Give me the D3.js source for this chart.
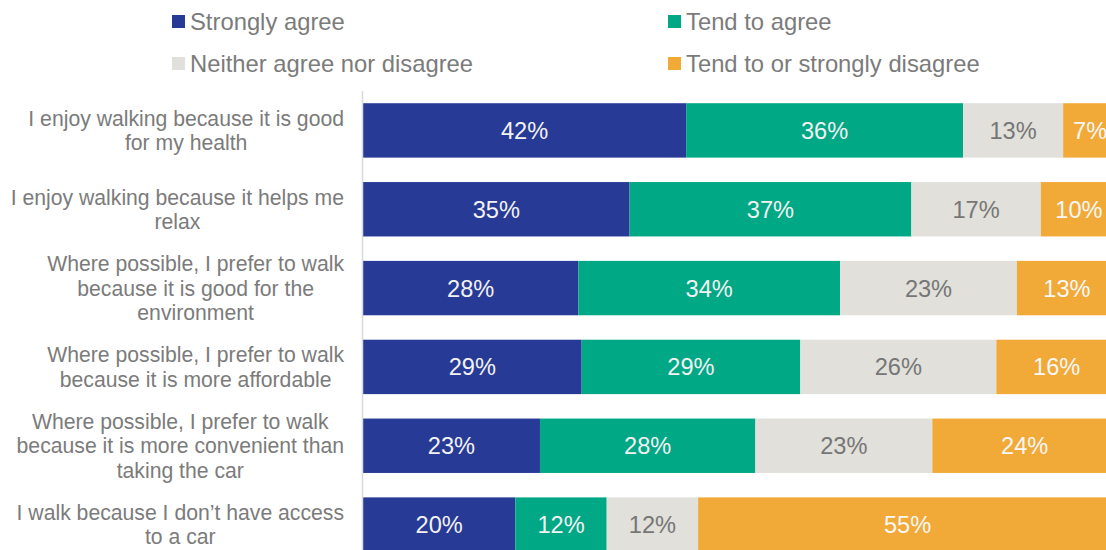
<!DOCTYPE html>
<html>
<head>
<meta charset="utf-8">
<script src="https://cdn.jsdelivr.net/npm/d3@7"></script>
<style>
  html, body { margin: 0; padding: 0; background: #ffffff; overflow: hidden; }
  svg { display: block; font-family: "Liberation Sans", Arial, Helvetica, sans-serif; }
</style>
</head>
<body>
<svg id="chart" width="1106" height="550"></svg>
<script>
// Survey statements (line breaks as shown in the axis labels)
const categories = [
  "I enjoy walking because it is good\nfor my health",
  "I enjoy walking because it helps me\nrelax",
  "Where possible, I prefer to walk\nbecause it is good for the\nenvironment",
  "Where possible, I prefer to walk\nbecause it is more affordable",
  "Where possible, I prefer to walk\nbecause it is more convenient than\ntaking the car",
  "I walk because I don\u2019t have access\nto a car"
];

const seriesNames = [
  "Strongly agree",
  "Tend to agree",
  "Neither agree nor disagree",
  "Tend to or strongly disagree"
];

// Percentages per statement
const stronglyAgree = [42, 35, 28, 29, 23, 20];
const tendToAgree   = [36, 37, 34, 29, 28, 12];
const neither       = [13, 17, 23, 26, 23, 12];
const disagree      = [7, 10, 13, 16, 24, 55];

const seriesColors = ["#273a96", "#00a886", "#e1e0da", "#f1aa37"];
const labelColors  = ["#f2f2f2", "#f2f2f2", "#767676", "#f7f7f7"];

const rows = categories.map((c, i) => ({
  category: c,
  [seriesNames[0]]: stronglyAgree[i],
  [seriesNames[1]]: tendToAgree[i],
  [seriesNames[2]]: neither[i],
  [seriesNames[3]]: disagree[i]
}));

const svg = d3.select("#chart");

// 100% stacked bars: each row normalised to its own total
const stack = d3.stack().keys(seriesNames).offset(d3.stackOffsetExpand);
const stacked = stack(rows);

const x = d3.scaleLinear().domain([0, 1]).range([363, 1117]);
const y = d3.scaleBand()
  .domain(categories)
  .range([91, 564])
  .paddingInner(0.31)
  .paddingOuter(0.155);

// Bars
const layers = svg.append("g")
  .selectAll("g")
  .data(stacked)
  .join("g")
  .attr("fill", (d, i) => seriesColors[i]);

layers.selectAll("rect")
  .data(d => d.map(p => ({ p, key: d.key })))
  .join("rect")
  .attr("x", d => x(d.p[0]))
  .attr("y", d => y(d.p.data.category))
  .attr("width", d => x(d.p[1]) - x(d.p[0]))
  .attr("height", y.bandwidth());

// Value labels in the middle of each segment
layers.each(function (layer, si) {
  d3.select(this).selectAll("text")
    .data(layer)
    .join("text")
    .attr("x", p => (x(p[0]) + x(p[1])) / 2)
    .attr("y", p => y(p.data.category) + y.bandwidth() / 2)
    .attr("dy", "0.36em")
    .attr("text-anchor", "middle")
    .attr("font-size", 23.6)
    .attr("fill", labelColors[si])
    .text(p => p.data[layer.key] + "%");
});

// Vertical category axis line
svg.append("line")
  .attr("x1", 362.5).attr("x2", 362.5)
  .attr("y1", 91).attr("y2", 550)
  .attr("stroke", "#d9d9d9")
  .attr("stroke-width", 1.5);

// Category labels: each block right-aligned, its lines centred on each other
const labelRight = 344;
const lineGap = 24.5;
const catFont = 21.2;
const catGroup = svg.append("g")
  .attr("font-size", catFont)
  .attr("fill", "#7b7b7b");

categories.forEach(c => {
  const lines = c.split("\n");
  const t = catGroup.append("text").attr("text-anchor", "middle");
  const cy = y(c) + y.bandwidth() / 2;
  const firstBase = cy - (lines.length - 1) * lineGap / 2 + catFont * 0.36;
  lines.forEach((ln, k) => {
    t.append("tspan").attr("y", firstBase + k * lineGap).text(ln);
  });
  let maxW = 0;
  t.selectAll("tspan").each(function () {
    maxW = Math.max(maxW, this.getComputedTextLength());
  });
  t.selectAll("tspan").attr("x", labelRight - maxW / 2);
});

// Legend (two columns, two rows)
const legendPos = [
  { x: 172, y: 15 },
  { x: 668, y: 15 },
  { x: 172, y: 57 },
  { x: 668, y: 57 }
];
const legend = svg.append("g")
  .selectAll("g")
  .data(seriesNames)
  .join("g")
  .attr("transform", (d, i) => `translate(${legendPos[i].x},${legendPos[i].y})`);

legend.append("rect")
  .attr("width", 13).attr("height", 13)
  .attr("fill", (d, i) => seriesColors[i]);

legend.append("text")
  .attr("x", 18)
  .attr("y", 6.5)
  .attr("dy", "0.36em")
  .attr("font-size", 23.8)
  .attr("fill", "#7b7b7b")
  .text(d => d);
</script>
</body>
</html>
